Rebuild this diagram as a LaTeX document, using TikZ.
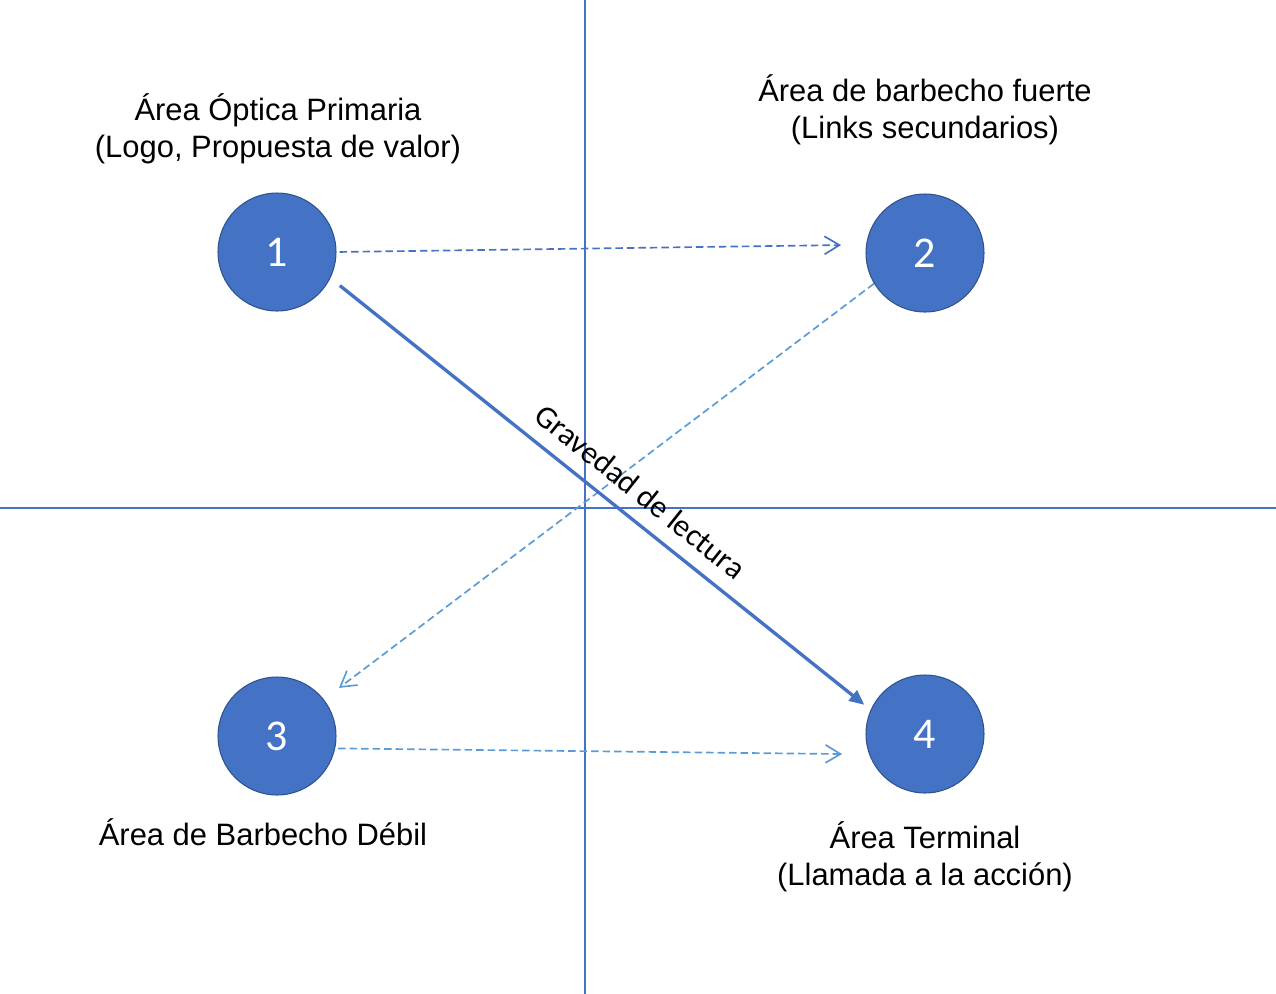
\documentclass[tikz,border=0pt]{standalone}
\usepackage{fontspec}
\setmainfont{Liberation Sans}
\newfontfamily\calibri{Carlito}
\usetikzlibrary{arrows.meta}
\pgfdeclarelayer{nodelayer}
\pgfdeclarelayer{edgelayer}
\pgfsetlayers{edgelayer,nodelayer,main}
\definecolor{areablue}{HTML}{4472C4}
\definecolor{arealine}{HTML}{2F528F}
\definecolor{lightblue}{HTML}{5B9BD5}
\tikzset{area/.style={draw=arealine, line width=0.6pt, fill=areablue, circle, minimum size=2.36cm, inner sep=0pt, text=white, font=\calibri\fontsize{25}{28}\selectfont}}
\tikzset{caption/.style={align=center, inner sep=0pt, font=\fontsize{17.6}{21}\selectfont}}
\tikzset{axis/.style={draw=areablue, line width=0.6pt}}
\tikzset{flow/.style={dashed, dash pattern=on 0.15cm off 0.08cm, line width=0.95pt, -{Straight Barb[length=0.3cm, width=0.36cm, line width=0.95pt]}}}
\tikzset{gravity/.style={draw=areablue, line width=1.9pt, -{Triangle[length=0.3cm, width=0.26cm]}}}

\begin{document}
\begin{tikzpicture}[x=0.02cm, y=-0.02cm]
	\useasboundingbox (0, 0) rectangle (1276, 994);
	\begin{pgfonlayer}{nodelayer}
		\node [style=area] (1) at (277, 252) {1};
		\node [style=area] (2) at (925, 253) {2};
		\node [style=area] (3) at (277, 736) {3};
		\node [style=area] (4) at (925, 734) {4};
		\node [style=caption] (5) at (278, 128.5) {Área Óptica Primaria\\(Logo, Propuesta de valor)};
		\node [style=caption] (6) at (925, 110) {Área de barbecho fuerte\\(Links secundarios)};
		\node [style=caption] (7) at (263, 832) {Área de Barbecho Débil};
		\node [style=caption] (8) at (925, 857) {Área Terminal\\(Llamada a la acción)};
		\coordinate (9) at (585, 0);
		\coordinate (10) at (585, 994);
		\coordinate (11) at (0, 508);
		\coordinate (12) at (1276, 508);
	\end{pgfonlayer}
	\begin{pgfonlayer}{edgelayer}
		\draw [style=axis] (9) to (10);
		\draw [style=axis] (11) to (12);
		\draw [style=flow, draw=areablue, shorten <=0.06cm, shorten >=0.5cm] (1.east) to (2.172);
		\draw [style=flow, draw=lightblue, shorten >=0.38cm] (2.211) to (3.38);
		\draw [style=flow, draw=lightblue, shorten <=0.06cm, shorten >=0.54cm] (3.-12) to (4.200);
		\draw [style=gravity, shorten <=0.24cm, shorten >=0.16cm] (1.-26) to node [sloped, above, pos=0.543, inner sep=8pt, font=\calibri\fontsize{18}{21}\selectfont] {Gravedad de lectura} (4.156);
	\end{pgfonlayer}
\end{tikzpicture}
\end{document}
